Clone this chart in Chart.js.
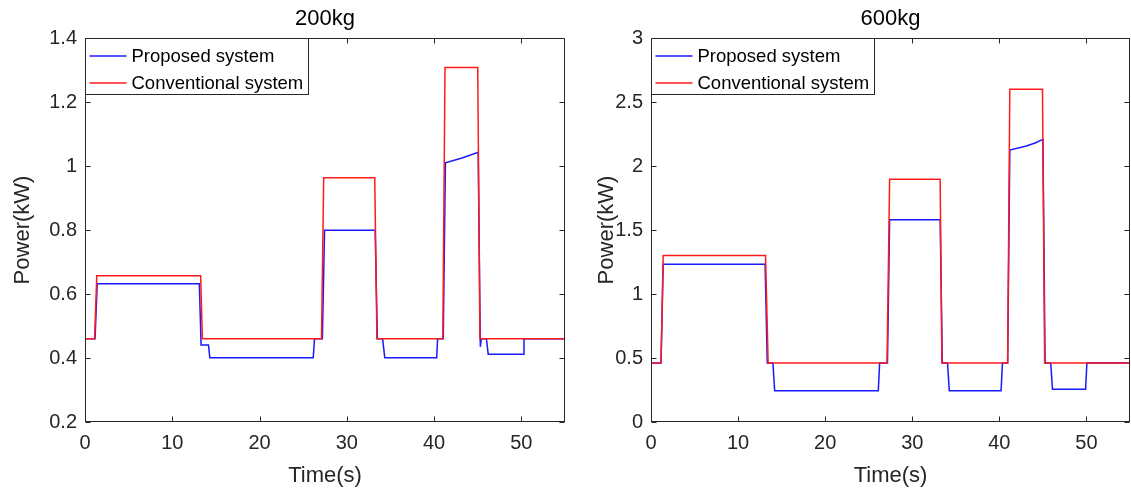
<!DOCTYPE html>
<html>
<head>
<meta charset="utf-8">
<script src="https://cdn.jsdelivr.net/npm/chart.js@4/dist/chart.umd.min.js"></script>
<style>
  html, body { margin: 0; padding: 0; background: #fff; }
  #wrap { position: relative; width: 1131px; height: 495px; overflow: hidden; background: #fff; }
  canvas { position: absolute; top: 0; }
  #c200 { left: 0; }
  #c600 { left: 580px; }
</style>
</head>
<body>
<div id="wrap">
  <canvas id="c200" width="580" height="495"></canvas>
  <canvas id="c600" width="551" height="495"></canvas>
</div>
<script>
// Series names and axis tick labels
const seriesNames = ['Proposed system', 'Conventional system'];
const timeTicks = [0, 10, 20, 30, 40, 50];
const powerTicks200 = [0.2, 0.4, 0.6, 0.8, 1, 1.2, 1.4];
const powerTicks600 = [0, 0.5, 1, 1.5, 2, 2.5, 3];

// 200 kg load: power traces (time in s, power in kW)
const tProp200 = [0, 1.15, 1.4, 13.1, 13.3, 14.15, 14.3, 26.15, 26.3, 27.2, 27.45, 33.25, 33.5, 34.1, 34.35, 40.3, 40.4, 41.05, 41.3, 43.2, 45.05, 45.3, 45.4, 46.0, 46.2, 50.2, 50.3, 55];
const pProp200 = [0.46, 0.46, 0.632, 0.632, 0.441, 0.441, 0.401, 0.401, 0.46, 0.46, 0.799, 0.799, 0.46, 0.46, 0.401, 0.401, 0.46, 0.46, 1.01, 1.025, 1.043, 0.435, 0.46, 0.46, 0.412, 0.412, 0.46, 0.46];
const tConv200 = [0, 1.1, 1.35, 13.25, 13.45, 27.1, 27.35, 33.2, 33.45, 41.0, 41.25, 45.0, 45.25, 55];
const pConv200 = [0.46, 0.46, 0.657, 0.657, 0.46, 0.46, 0.963, 0.963, 0.46, 0.46, 1.308, 1.308, 0.46, 0.46];

// 600 kg load: power traces (time in s, power in kW)
const tProp600 = [0, 1.15, 1.4, 13.1, 13.35, 14.0, 14.2, 26.1, 26.25, 27.15, 27.4, 33.2, 33.45, 34.05, 34.25, 40.2, 40.35, 40.95, 41.2, 43.1, 44.1, 45.0, 45.25, 45.9, 46.1, 49.9, 50.05, 55];
const pProp600 = [0.46, 0.46, 1.232, 1.232, 0.46, 0.46, 0.245, 0.245, 0.46, 0.46, 1.58, 1.58, 0.46, 0.46, 0.245, 0.245, 0.46, 0.46, 2.125, 2.156, 2.18, 2.208, 0.46, 0.46, 0.255, 0.255, 0.46, 0.46];
const tConv600 = [0, 1.15, 1.4, 13.15, 13.45, 27.1, 27.4, 33.2, 33.4, 40.95, 41.2, 44.95, 45.2, 55];
const pConv600 = [0.46, 0.46, 1.30, 1.30, 0.46, 0.46, 1.896, 1.896, 0.46, 0.46, 2.60, 2.60, 0.46, 0.46];

const FONT = '"Liberation Sans", Arial, Helvetica, sans-serif';
const INK = '#262626';
const COLORS = ['#1a1aff', '#ff1a1a'];

const toPoints = (t, p) => t.map((v, i) => ({ x: v, y: p[i] }));
const fmt = v => String(+Number(v).toFixed(3));

// Axes box with inward ticks, panel title and an inset legend
const framePlugin = {
  id: 'frame',
  afterDraw(chart, args, opts) {
    const { ctx, chartArea: a, scales: { x, y } } = chart;
    ctx.save();
    ctx.strokeStyle = INK;
    ctx.lineWidth = 1;
    const L = Math.round(a.left) + 0.5, R = Math.round(a.right) - 0.5;
    const T = Math.round(a.top) + 0.5, B = Math.round(a.bottom) - 0.5;
    ctx.strokeRect(L, T, R - L, B - T);
    const len = 5;
    ctx.beginPath();
    x.ticks.forEach(t => {
      const px = Math.round(x.getPixelForValue(t.value)) + 0.5;
      ctx.moveTo(px, B); ctx.lineTo(px, B - len);
      ctx.moveTo(px, T); ctx.lineTo(px, T + len);
    });
    y.ticks.forEach(t => {
      const py = Math.round(y.getPixelForValue(t.value)) + 0.5;
      ctx.moveTo(L, py); ctx.lineTo(L + len, py);
      ctx.moveTo(R, py); ctx.lineTo(R - len, py);
    });
    ctx.stroke();

    // legend
    ctx.font = '18.5px ' + FONT;
    const labels = chart.data.datasets.map(d => d.label);
    const tw = Math.max(...labels.map(s => ctx.measureText(s).width));
    const lx = L, ly = T, lw = Math.round(46 + tw + 5), lh = 56;
    ctx.fillStyle = '#fff';
    ctx.fillRect(lx, ly, lw, lh);
    ctx.strokeStyle = INK;
    ctx.lineWidth = 1;
    ctx.strokeRect(lx, ly, lw, lh);
    labels.forEach((label, i) => {
      const cy = Math.round(ly + 17 + i * 27);
      ctx.strokeStyle = COLORS[i];
      ctx.lineWidth = 1.5;
      ctx.beginPath();
      ctx.moveTo(lx + 4, cy); ctx.lineTo(lx + 41, cy);
      ctx.stroke();
      ctx.fillStyle = '#000';
      ctx.textAlign = 'left';
      ctx.textBaseline = 'middle';
      ctx.fillText(label, lx + 46, cy + 1);
    });

    // title
    ctx.fillStyle = '#000';
    ctx.font = '22px ' + FONT;
    ctx.textAlign = 'center';
    ctx.textBaseline = 'middle';
    ctx.fillText(opts.text, (a.left + a.right) / 2, opts.y);
    ctx.restore();
  }
};

function makeChart(id, title, tP, pP, tC, pC, yTicks, yWidth, rightPad, yTitlePad) {
  const yStep = yTicks[1] - yTicks[0];
  return new Chart(document.getElementById(id), {
    type: 'line',
    data: {
      datasets: [
        { label: seriesNames[0], data: toPoints(tP, pP), borderColor: COLORS[0], borderWidth: 1.5, pointRadius: 0, tension: 0, order: 1 },
        { label: seriesNames[1], data: toPoints(tC, pC), borderColor: COLORS[1], borderWidth: 1.5, pointRadius: 0, tension: 0, order: 0 }
      ]
    },
    options: {
      responsive: false,
      animation: false,
      devicePixelRatio: 1,
      layout: { padding: { top: 38, right: rightPad, bottom: 0, left: 0 } },
      plugins: {
        legend: { display: false },
        tooltip: { enabled: false },
        frame: { text: title, y: 19 }
      },
      scales: {
        x: {
          type: 'linear',
          min: timeTicks[0],
          max: 55,
          grid: { display: false, drawTicks: false },
          border: { display: false },
          ticks: { stepSize: timeTicks[1] - timeTicks[0], includeBounds: false, padding: 9, color: INK, font: { family: FONT, size: 20 }, callback: fmt, maxRotation: 0 },
          title: { display: true, text: 'Time(s)', color: INK, font: { family: FONT, size: 22 }, padding: { top: 0, bottom: 6 } },
          afterFit(s) { s.height = 73; }
        },
        y: {
          min: yTicks[0],
          max: yTicks[yTicks.length - 1],
          grid: { display: false, drawTicks: false },
          border: { display: false },
          ticks: { stepSize: yStep, padding: 8, color: INK, font: { family: FONT, size: 20 }, callback: fmt },
          title: { display: true, text: 'Power(kW)', color: INK, font: { family: FONT, size: 22 }, padding: { top: yTitlePad, bottom: 0 } },
          afterFit(s) { s.width = yWidth; }
        }
      }
    },
    plugins: [framePlugin]
  });
}

makeChart('c200', '200kg', tProp200, pProp200, tConv200, pConv200, powerTicks200, 85, 15, 10);
makeChart('c600', '600kg', tProp600, pProp600, tConv600, pConv600, powerTicks600, 71, 1, 14);
</script>
</body>
</html>
